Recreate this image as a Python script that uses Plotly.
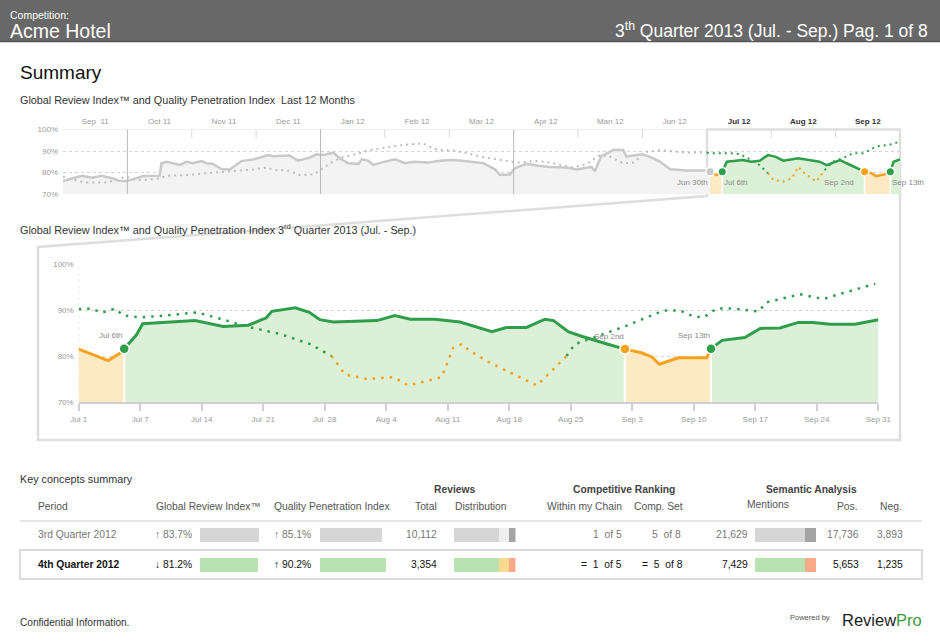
import plotly.graph_objects as go

W, H = 940, 643
FONT = "Liberation Sans, Arial, sans-serif"


def px(x):
    return x / W


def py(y):
    return 1 - y / H


# ---------------- DATA ----------------
# Top chart: last 12 months (x in months from start of Sep 11)
top_months = ["Sep\u00a0\u00a011", "Oct 11", "Nov 11", "Dec 11", "Jan 12", "Feb 12", "Mar 12",
              "Apr 12", "Man 12", "Jun 12", "Jul 12", "Aug 12", "Sep 12"]
top_y_ticks = [70, 80, 90, 100]

top_gri_gray_x = [0.0, 0.29, 0.45, 0.60, 0.78, 0.86, 0.99, 1.12, 1.25, 1.50, 1.53, 1.61, 1.82, 1.92,
                  2.02, 2.15, 2.23, 2.33, 2.46, 2.59, 2.77, 2.96, 3.19, 3.27, 3.52, 3.65, 3.83, 3.94,
                  4.04, 4.20, 4.30, 4.43, 4.59, 4.64, 4.74, 4.82, 4.95, 5.16, 5.31, 5.44, 5.67, 5.85,
                  6.04, 6.20, 6.53, 6.71, 6.79, 6.94, 7.02, 7.20, 7.38, 7.56, 7.82, 7.98, 8.21, 8.26,
                  8.36, 8.44, 8.55, 8.70, 8.75, 8.99, 9.11, 9.27, 9.43, 9.69, 9.97, 10.05]
top_gri_gray = [76.0, 78.5, 77.6, 78.5, 77.2, 76.2, 76.0, 77.3, 78.4, 78.5, 84.3, 85.0, 83.5, 85.0,
                84.3, 85.3, 84.3, 84.0, 81.6, 81.4, 85.3, 86.1, 88.1, 87.6, 87.9, 85.5, 86.9, 88.5,
                88.2, 89.2, 86.6, 84.3, 84.0, 86.1, 85.5, 83.5, 84.7, 86.1, 84.3, 85.0, 84.6, 85.5,
                85.8, 85.5, 84.3, 81.5, 78.8, 79.1, 82.0, 84.0, 83.1, 82.6, 82.3, 81.4, 82.6, 80.6,
                87.7, 88.8, 90.5, 90.5, 87.4, 88.5, 87.4, 85.1, 81.5, 80.9, 80.9, 80.4]

top_qpi_gray_x = [0.0, 0.16, 0.37, 0.68, 0.83, 0.98, 1.12, 1.30, 1.51, 1.61, 1.92, 2.23, 2.43, 2.64,
                  2.96, 3.16, 3.34, 3.47, 3.68, 3.89, 4.00, 4.15, 4.33, 4.51, 4.77, 5.03, 5.28, 5.59,
                  5.75, 5.85, 6.06, 6.27, 6.48, 6.94, 7.07, 7.35, 7.56, 7.92, 8.13, 8.34, 8.49, 8.70,
                  8.86, 9.06, 9.27, 9.69, 10.0]
top_qpi_gray = [78.1, 76.6, 75.3, 75.3, 76.6, 78.1, 76.6, 76.6, 77.3, 78.5, 78.8, 79.6, 80.4, 80.7,
                81.4, 82.3, 80.9, 81.2, 78.8, 79.1, 81.2, 84.3, 87.1, 88.2, 90.5, 91.7, 92.8, 93.6,
                91.3, 90.5, 90.2, 89.0, 87.4, 85.1, 84.6, 85.4, 84.6, 82.3, 83.9, 88.1, 87.4, 84.3,
                84.6, 89.6, 90.3, 89.3, 89.3]

top_gri_orange1_x = [10.05, 10.10, 10.15, 10.20, 10.24]
top_gri_orange1 = [80.4, 79.6, 78.8, 79.6, 80.4]
top_gri_green1_x = [10.24, 10.31, 10.56, 10.69, 10.82, 10.95, 11.06, 11.19, 11.42, 11.57, 11.75,
                    11.86, 12.07, 12.17, 12.45]
top_gri_green1 = [80.4, 85.0, 85.8, 85.0, 85.5, 88.1, 87.4, 85.5, 86.6, 85.8, 85.0, 83.4, 85.8,
                  84.3, 80.4]
top_gri_orange2_x = [12.45, 12.56, 12.63, 12.76, 12.85]
top_gri_orange2 = [80.4, 79.6, 78.3, 79.2, 80.4]
top_gri_green2_x = [12.85, 12.90, 13.0]
top_gri_green2 = [80.4, 85.0, 86.1]

top_qpi_green1_x = [10.0, 10.05, 10.36, 10.51, 10.67, 10.82, 10.90, 10.95]
top_qpi_green1 = [89.3, 89.0, 89.0, 88.6, 86.1, 83.4, 81.1, 79.6]
top_qpi_orange_x = [10.95, 11.03, 11.19, 11.32, 11.42, 11.52, 11.70, 11.78, 11.83]
top_qpi_orange = [79.6, 76.6, 75.8, 77.3, 82.6, 79.6, 75.8, 78.9, 81.1]
top_qpi_green2_x = [11.83, 11.96, 12.17, 12.27, 12.43, 12.63, 12.84, 13.0]
top_qpi_green2 = [81.1, 85.0, 87.4, 89.0, 89.0, 92.1, 92.9, 94.4]

top_marker_labels = ["Jun 30th", "Jul 6th", "Sep 2nd", "Sep 13th"]

# Main chart: 3rd Quarter 2013 (x = tick index)
main_ticks = ["Jul 1", "Jul 7", "Jul 14", "Jul\u00a0\u00a021", "Jul\u00a0\u00a028", "Aug 4", "Aug 11",
              "Aug 18", "Aug 25", "Sep 3", "Sep 10", "Sep 17", "Sep 24", "Sep 31"]
main_y_ticks = [70, 80, 90, 100]

gri_orange1_x = [0.0, 0.48, 0.74]
gri_orange1 = [81.5, 79.0, 81.2]
gri_green1_x = [0.74, 0.94, 1.04, 1.89, 2.35, 2.76, 3.05, 3.14, 3.52, 3.75, 3.92, 4.14, 4.85, 5.14,
                5.39, 5.79, 6.20, 6.72, 6.95, 7.28, 7.58, 7.72, 7.96, 8.15, 8.59, 8.88]
gri_green1 = [81.6, 84.6, 87.0, 87.7, 86.4, 86.7, 88.3, 89.7, 90.5, 89.5, 87.9, 87.4, 87.7, 88.8,
              88.0, 88.0, 87.4, 85.3, 86.2, 86.2, 88.0, 87.7, 85.3, 84.4, 82.6, 81.5]
gri_orange2_x = [8.88, 9.15, 9.32, 9.44, 9.75, 10.21, 10.28]
gri_orange2 = [81.5, 80.7, 79.8, 78.2, 79.6, 79.6, 81.6]
gri_green2_x = [10.28, 10.46, 10.83, 11.08, 11.40, 11.70, 11.94, 12.22, 12.62, 13.0]
gri_green2 = [81.6, 83.4, 84.0, 86.0, 86.1, 87.3, 87.3, 86.9, 86.9, 87.9]

qpi_green1_x = [0.0, 0.21, 0.37, 0.59, 0.73, 1.0, 1.43, 1.92, 2.30, 2.73, 3.27, 3.76, 4.11]
qpi_green1 = [90.2, 90.3, 89.4, 90.3, 88.8, 88.4, 88.8, 89.5, 88.1, 86.4, 84.8, 82.6, 80.0]
qpi_orange_x = [4.11, 4.33, 4.68, 5.12, 5.36, 5.90, 6.09, 6.23, 6.36, 6.69, 7.45, 7.93]
qpi_orange = [80.0, 76.0, 75.0, 75.4, 73.6, 75.4, 81.8, 82.6, 81.1, 78.5, 73.6, 80.0]
qpi_green2_x = [7.93, 8.07, 8.37, 8.91, 9.51, 9.78, 9.99, 10.16, 10.37, 10.64, 11.05, 11.19, 11.73,
                12.11, 12.43, 12.95]
qpi_green2 = [80.0, 82.6, 84.0, 86.6, 89.9, 89.9, 88.6, 88.4, 90.3, 90.3, 89.7, 91.7, 93.4, 92.4,
              93.7, 95.7]

main_marker_labels = ["Jul 6th", "Sep 2nd", "Sep 13th"]

# Key concepts summary table
periods = ["3rd Quarter 2012", "4th Quarter 2012"]
gri_values = [83.7, 81.2]
gri_arrows = ["\u2191", "\u2193"]
qpi_values = [85.1, 90.2]
qpi_arrows = ["\u2191", "\u2191"]
review_totals = ["10,112", "3,354"]
dist_pos = [0.726, 0.734]
dist_neu = [0.164, 0.162]
dist_neg = [0.110, 0.104]
rank_chain = ["1\u00a0\u00a0of 5", "=\u00a0\u00a01\u00a0\u00a0of 5"]
rank_comp = ["5\u00a0\u00a0of 8", "=\u00a0\u00a05\u00a0\u00a0of 8"]
mentions = [21629, 7429]
mentions_pos = [17736, 5653]
mentions_neg = [3893, 1235]

# ---------------- COLORS ----------------
GREEN = "#2f9e4a"
ORANGE = "#f7a21c"
GREEN_FILL = "#dcf0d8"
ORANGE_FILL = "#fdeac5"
GRAY_LINE = "#c9c9c9"
GRAY_FILL = "#f3f3f3"

fig = go.Figure()


def fill_trace(x, y, color, xa, ya):
    fig.add_trace(go.Scatter(x=x, y=y, mode="lines", line=dict(width=0, color=color),
                             fill="tozeroy", fillcolor=color, xaxis=xa, yaxis=ya,
                             hoverinfo="skip", showlegend=False))


def line_trace(x, y, color, width, xa, ya, dash=None):
    fig.add_trace(go.Scatter(x=x, y=y, mode="lines",
                             line=dict(width=width, color=color, dash=dash),
                             xaxis=xa, yaxis=ya, hoverinfo="skip", showlegend=False))


def separator(x, y, xa, ya, width):
    fig.add_trace(go.Scatter(x=[x, x], y=[70, y], mode="lines",
                             line=dict(width=width, color="white"),
                             xaxis=xa, yaxis=ya, hoverinfo="skip", showlegend=False))


def dot(x, y, color, size, xa, ya):
    fig.add_trace(go.Scatter(x=[x], y=[y], mode="markers",
                             marker=dict(size=size, color=color, line=dict(width=1.5, color="white")),
                             xaxis=xa, yaxis=ya, hoverinfo="skip", showlegend=False))


# ---------------- TOP CHART ----------------
fill_trace(top_gri_gray_x, top_gri_gray, GRAY_FILL, "x", "y")
fill_trace(top_gri_orange1_x, top_gri_orange1, ORANGE_FILL, "x", "y")
fill_trace(top_gri_green1_x, top_gri_green1, GREEN_FILL, "x", "y")
fill_trace(top_gri_orange2_x, top_gri_orange2, ORANGE_FILL, "x", "y")
fill_trace(top_gri_green2_x, top_gri_green2, GREEN_FILL, "x", "y")
for sx, sy in [(top_gri_green1_x[0], top_gri_green1[0]), (top_gri_orange2_x[0], top_gri_orange2[0]),
               (top_gri_green2_x[0], top_gri_green2[0])]:
    separator(sx, sy, "x", "y", 1.5)
DOTS = "2px,4px"
line_trace(top_qpi_gray_x, top_qpi_gray, "#bdbdbd", 2, "x", "y", DOTS)
line_trace(top_qpi_green1_x, top_qpi_green1, GREEN, 2, "x", "y", DOTS)
line_trace(top_qpi_orange_x, top_qpi_orange, ORANGE, 2, "x", "y", DOTS)
line_trace(top_qpi_green2_x, top_qpi_green2, GREEN, 2, "x", "y", DOTS)
line_trace(top_gri_gray_x, top_gri_gray, GRAY_LINE, 2.5, "x", "y")
line_trace(top_gri_orange1_x, top_gri_orange1, ORANGE, 2.5, "x", "y")
line_trace(top_gri_green1_x, top_gri_green1, GREEN, 2.5, "x", "y")
line_trace(top_gri_orange2_x, top_gri_orange2, ORANGE, 2.5, "x", "y")
line_trace(top_gri_green2_x, top_gri_green2, GREEN, 2.5, "x", "y")
top_points = [(top_gri_orange1_x[0], top_gri_orange1[0], "#c9c9c9"),
              (top_gri_green1_x[0], top_gri_green1[0], GREEN),
              (top_gri_orange2_x[0], top_gri_orange2[0], ORANGE),
              (top_gri_green2_x[0], top_gri_green2[0], GREEN)]
for (tx, ty, tc) in top_points:
    dot(tx, ty, tc, 8.5, "x", "y")

# ---------------- MAIN CHART ----------------
fill_trace(gri_orange1_x, gri_orange1, ORANGE_FILL, "x2", "y2")
fill_trace(gri_green1_x, gri_green1, GREEN_FILL, "x2", "y2")
fill_trace(gri_orange2_x, gri_orange2, ORANGE_FILL, "x2", "y2")
fill_trace(gri_green2_x, gri_green2, GREEN_FILL, "x2", "y2")
main_points = [(gri_green1_x[0], gri_green1[0], GREEN),
               (gri_orange2_x[0], gri_orange2[0], ORANGE),
               (gri_green2_x[0], gri_green2[0], GREEN)]
for (mx, my, _) in main_points:
    separator(mx, my, "x2", "y2", 2)
DOTS2 = "2.5px,6px"
line_trace(qpi_green1_x, qpi_green1, GREEN, 2.5, "x2", "y2", DOTS2)
line_trace(qpi_orange_x, qpi_orange, ORANGE, 2.5, "x2", "y2", DOTS2)
line_trace(qpi_green2_x, qpi_green2, GREEN, 2.5, "x2", "y2", DOTS2)
line_trace(gri_orange1_x, gri_orange1, ORANGE, 3, "x2", "y2")
line_trace(gri_green1_x, gri_green1, GREEN, 3, "x2", "y2")
line_trace(gri_orange2_x, gri_orange2, ORANGE, 3, "x2", "y2")
line_trace(gri_green2_x, gri_green2, GREEN, 3, "x2", "y2")
for (mx, my, mc) in main_points:
    dot(mx, my, mc, 10, "x2", "y2")

# ---------------- TABLE BARS ----------------
rows = [0, 1]
row1_gray, row1_light, row1_dark = "#d6d6d6", "#efefef", "#a4a4a4"
c_green, c_yellow, c_salmon = "#b8e3b1", "#fdd88e", "#f8a98a"
BW = 0.48


def hbar(x, colors, xa, ya):
    fig.add_trace(go.Bar(x=x, y=rows, orientation="h", width=BW, marker=dict(color=colors, line=dict(width=0)),
                         xaxis=xa, yaxis=ya, hoverinfo="skip", showlegend=False))


hbar(gri_values, [row1_gray, c_green], "x3", "y3")
hbar(qpi_values, [row1_gray, c_green], "x4", "y4")
hbar(dist_pos, [row1_gray, c_green], "x5", "y5")
hbar(dist_neu, [row1_light, c_yellow], "x5", "y5")
hbar(dist_neg, [row1_dark, c_salmon], "x5", "y5")
men_pos_share = [p / (p + n) for p, n in zip(mentions_pos, mentions_neg)]
men_neg_share = [n / (p + n) for p, n in zip(mentions_pos, mentions_neg)]
hbar(men_pos_share, [row1_gray, c_green], "x6", "y6")
hbar(men_neg_share, [row1_dark, c_salmon], "x6", "y6")

# ---------------- AXES ----------------
tick_font = dict(family=FONT, size=8, color="#9a9a9a")
top_ticktext = []
for i, m in enumerate(top_months):
    if i >= 10:
        top_ticktext.append('<span style="color:#333333"><b>%s</b></span>' % m)
    else:
        top_ticktext.append(m)

layout_axes = dict(
    xaxis=dict(domain=[px(63), px(900)], range=[0, 13], anchor="y", side="top",
               tickvals=[i + 0.5 for i in range(13)], ticktext=top_ticktext, ticks="",
               ticklabelstandoff=3,
               showgrid=False, zeroline=False, showline=False, tickfont=tick_font,
               fixedrange=True, automargin=False),
    yaxis=dict(domain=[py(194), py(129.5)], range=[70, 100], anchor="x",
               tickvals=top_y_ticks, ticktext=["%d%%" % v for v in top_y_ticks],
               ticklabelstandoff=4,
               showgrid=True, gridcolor="#d4d4d4", griddash="dot", gridwidth=1,
               zeroline=False, showline=False, ticks="", tickfont=tick_font,
               fixedrange=True, automargin=False),
    xaxis2=dict(domain=[px(78.7), px(878.3)], range=[0, 13], anchor="y2",
                tickvals=list(range(len(main_ticks))), ticktext=main_ticks,
                ticks="outside", ticklen=7, tickwidth=1.5, tickcolor="#cfcfcf",
                ticklabelstandoff=1,
                showline=True, linecolor="#cfcfcf", linewidth=2,
                showgrid=False, zeroline=False, tickfont=tick_font,
                fixedrange=True, automargin=False),
    yaxis2=dict(domain=[py(402), py(264)], range=[70, 100], anchor="x2",
                tickvals=main_y_ticks, ticktext=["%d%%" % v for v in main_y_ticks],
                ticklabelstandoff=4,
                showgrid=True, gridcolor="#d4d4d4", griddash="dot", gridwidth=1,
                zeroline=False, showline=False, ticks="", tickfont=tick_font,
                fixedrange=True, automargin=False),
)
bar_ydom = [py(580), py(520)]
bar_cols = {"3": (200, 271, [0, 100]), "4": (319.5, 393.5, [0, 100]),
            "5": (454, 515.5, [0, 1]), "6": (755, 816, [0, 1])}
for k, (x0, x1, rng) in bar_cols.items():
    layout_axes["xaxis" + k] = dict(domain=[px(x0), px(x1)], range=rng, anchor="y" + k,
                                    visible=False, fixedrange=True, automargin=False)
    layout_axes["yaxis" + k] = dict(domain=bar_ydom, range=[1.5, -0.5], anchor="x" + k,
                                    visible=False, fixedrange=True, automargin=False)

# ---------------- SHAPES ----------------
shapes = []
# header band
shapes.append(dict(type="rect", xref="paper", yref="paper", x0=0, x1=1, y0=py(42), y1=1,
                   fillcolor="#686868", line=dict(width=0), layer="below"))
shapes.append(dict(type="line", xref="paper", yref="paper", x0=0, x1=1, y0=py(41.5), y1=py(41.5),
                   line=dict(color="#555555", width=1.5), layer="below"))
# callout polygon (zoom box)
pts = [(707, 196), (707, 129.5), (900, 129.5), (900, 440), (38, 440), (38, 247)]
path = "M " + " L ".join("%f,%f" % (px(a), py(b)) for a, b in pts) + " Z"
shapes.append(dict(type="path", xref="paper", yref="paper", path=path, fillcolor="white",
                   line=dict(color="#dedede", width=2.5), layer="below"))
# top chart top border
shapes.append(dict(type="line", xref="x", yref="y", x0=0, x1=10, y0=100, y1=100,
                   line=dict(color="#dddddd", width=1), layer="below"))
# quarter dividers and month ticks
for m in range(1, 13):
    if m == 10:
        continue
    if m in (1, 4, 7):
        shapes.append(dict(type="line", xref="x", yref="paper", x0=m, x1=m, y0=py(194), y1=py(129.5),
                           line=dict(color="#b8b8b8", width=1), layer="above"))
    else:
        shapes.append(dict(type="line", xref="x", yref="paper", x0=m, x1=m, y0=py(138), y1=py(129.5),
                           line=dict(color="#d9d9d9", width=1), layer="below"))
# main chart left dotted gridline
shapes.append(dict(type="line", xref="x2", yref="y2", x0=0, x1=0, y0=70, y1=100,
                   line=dict(color="#d4d4d4", width=1, dash="dot"), layer="below"))
# table lines
shapes.append(dict(type="line", xref="paper", yref="paper", x0=px(20), x1=px(922), y0=py(521), y1=py(521),
                   line=dict(color="#e6e6e6", width=2)))
shapes.append(dict(type="rect", xref="paper", yref="paper", x0=px(20), x1=px(922), y0=py(579), y1=py(550),
                   line=dict(color="#dcdcdc", width=2), fillcolor="rgba(0,0,0,0)"))

# ---------------- ANNOTATIONS ----------------
ann = []


def text(x, y, s, size, color="#333333", anchor="left", bold=False):
    if bold:
        s = "<b>%s</b>" % s
    shift = {"left": -2, "right": 2, "center": 0}[anchor]
    ann.append(dict(xref="paper", yref="paper", x=px(x), y=py(y), text=s, showarrow=False,
                    xanchor=anchor, yanchor="middle", xshift=shift,
                    font=dict(family=FONT, size=size, color=color)))


text(10, 15, "Competition:", 10.5, "white")
text(10, 31, "Acme Hotel", 19.5, "white")
text(928, 30, "3<sup>th</sup> Quarter 2013 (Jul. - Sep.) Pag. 1 of 8", 17.5, "white", "right")
text(20, 72, "Summary", 19, "#111111")
text(20, 100, "Global Review Index\u2122 and Quality Penetration Index\u00a0\u00a0Last 12 Months", 10.8)
text(20, 229, "Global Review Index\u2122 and Quality Penetration Index 3<sup>rd</sup> Quarter 2013 (Jul. - Sep.)", 10.8)

# marker labels, main chart
for (mx, my, _), lab in zip(main_points, main_marker_labels):
    ann.append(dict(xref="x2", yref="y2", x=mx, y=my, text=lab, showarrow=False, xanchor="right",
                    yanchor="middle", yshift=13, xshift=1, font=dict(family=FONT, size=8, color="#8a8a8a")))
# marker labels, top chart
top_lab_anchor = [("right", 0), ("left", 0), ("right", -9), ("left", 0)]
for (tx, ty, _), lab, (anc, xs) in zip(top_points, top_marker_labels, top_lab_anchor):
    ann.append(dict(xref="x", yref="y", x=tx, y=ty, text=lab, showarrow=False, xanchor=anc,
                    yanchor="middle", yshift=-11, xshift=xs, font=dict(family=FONT, size=8, color="#8a8a8a")))

# table
TS = 10.3
text(20, 479, "Key concepts summary", 10.8)
text(454.5, 490, "Reviews", TS, "#444444", "center", True)
text(624, 490, "Competitive Ranking", TS, "#444444", "center", True)
text(811.7, 490, "Semantic Analysis", TS, "#444444", "center", True)
HC = "#555555"
text(38, 506, "Period", TS, HC)
text(155.5, 506, "Global Review Index\u2122", TS, HC)
text(274, 506, "Quality Penetration Index", TS, HC)
text(437.3, 506, "Total", TS, HC, "right")
text(454.5, 506, "Distribution", TS, HC)
text(547.3, 506, "Within my Chain", TS, HC)
text(634, 506, "Comp. Set", TS, HC)
text(746.7, 504, "Mentions", TS, HC)
text(857.5, 506, "Pos.", TS, HC, "right")
text(901.7, 506, "Neg.", TS, HC, "right")

row_y = [534.5, 564.5]
row_col = ["#777777", "#111111"]
chain_right = [621.7, 621.7]
comp_right = [680.7, 683.3]
for i in range(2):
    yy, cc = row_y[i], row_col[i]
    text(38, yy, periods[i], TS, cc, bold=(i == 1))
    text(155, yy, "%s %.1f%%" % (gri_arrows[i], gri_values[i]), TS, cc)
    text(274, yy, "%s %.1f%%" % (qpi_arrows[i], qpi_values[i]), TS, cc)
    text(437, yy, review_totals[i], TS, cc, "right")
    text(chain_right[i], yy, rank_chain[i], TS, cc, "right")
    text(comp_right[i], yy, rank_comp[i], TS, cc, "right")
    text(747.5, yy, "{:,}".format(mentions[i]), TS, cc, "right")
    text(858.8, yy, "{:,}".format(mentions_pos[i]), TS, cc, "right")
    text(902.5, yy, "{:,}".format(mentions_neg[i]), TS, cc, "right")

# footer
text(20, 622, "Confidential Information.", 10.1, "#333333")
text(790, 617, "Powered by", 7.5, "#555555")
text(842, 620, 'Review<span style="color:#3c9b3c">Pro</span>', 16.5, "#222222")

fig.update_layout(
    template="none",
    width=W, height=H, margin=dict(l=0, r=0, t=0, b=0, autoexpand=False),
    paper_bgcolor="white", plot_bgcolor="rgba(0,0,0,0)",
    showlegend=False, barmode="stack", font=dict(family=FONT),
    shapes=shapes, annotations=ann, **layout_axes,
)

fig.write_html("out.html", config={"displayModeBar": False})
